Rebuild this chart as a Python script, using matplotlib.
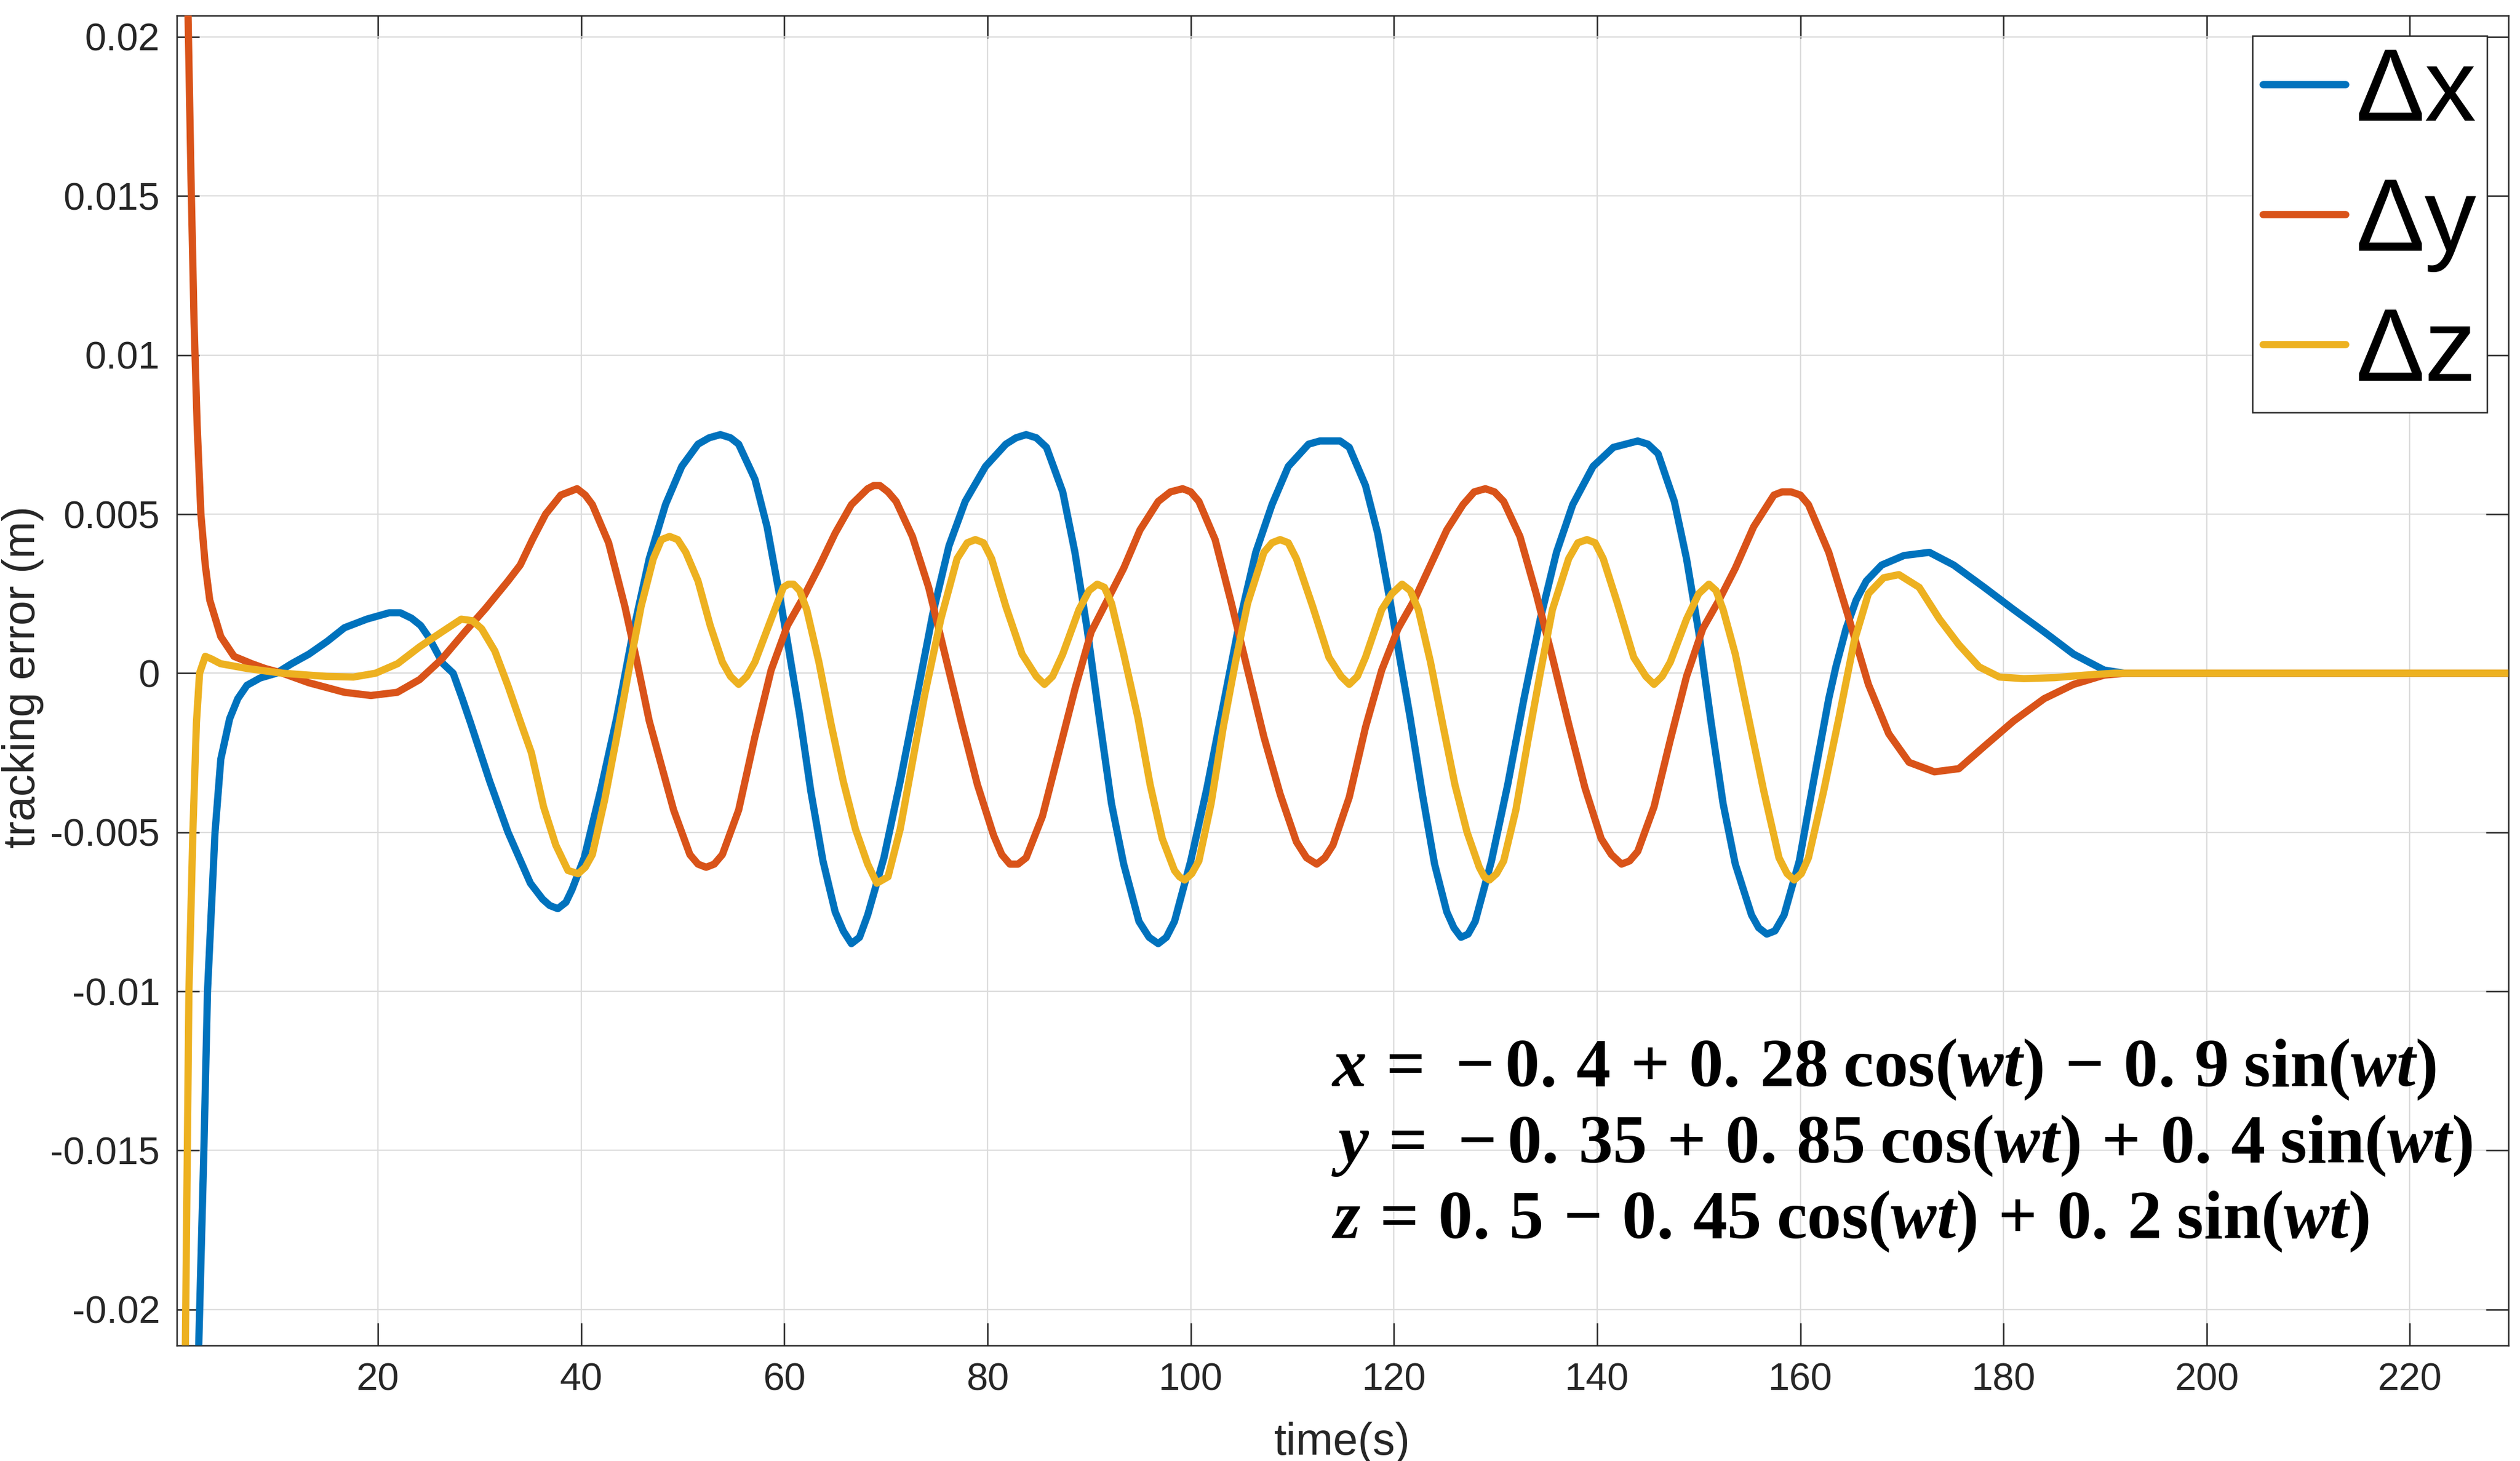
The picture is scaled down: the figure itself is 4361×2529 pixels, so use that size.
import matplotlib
matplotlib.use("Agg")
import matplotlib.pyplot as plt
from matplotlib.ticker import FixedLocator, FixedFormatter

# ---------------- data ----------------
# each series: list of (time [s], error [m]) pairs
dx_points = [
    (0.2, -0.060), (1.5, -0.034), (2.35, -0.0212), (2.87, -0.0149), (3.22, -0.0100),
    (3.96, -0.0050), (4.53, -0.0027), (5.4, -0.00143), (6.2, -0.0008), (7.1, -0.00038),
    (8.4, -0.00015), (10.0, 0.0), (11.5, 0.0003), (13.2, 0.0006), (15.0, 0.0010),
    (16.7, 0.00143), (18.9, 0.0017), (21.1, 0.0019), (22.2, 0.0019), (23.3, 0.00173),
    (24.2, 0.0015), (25.0, 0.00113), (26.4, 0.0003), (27.4, 0.0), (28.3, -0.0008),
    (29.1, -0.00155), (31.0, -0.0034), (32.8, -0.0050), (33.9, -0.0058), (35.0, -0.0066),
    (36.2, -0.0071), (36.9, -0.0073), (37.7, -0.0074), (38.5, -0.0072), (39.1, -0.0068),
    (40.3, -0.0058), (41.9, -0.0037), (43.5, -0.0014), (45.1, 0.00127), (46.7, 0.0036),
    (48.3, 0.0053), (49.9, 0.0065), (51.5, 0.0072), (52.6, 0.0074), (53.7, 0.0075),
    (54.7, 0.0074), (55.5, 0.0072), (57.1, 0.0061), (58.3, 0.0046), (59.5, 0.0025),
    (60.3, 0.0010), (61.5, -0.0013), (62.6, -0.0037), (63.8, -0.0059), (65.0, -0.0075),
    (65.8, -0.0081), (66.6, -0.0085), (67.4, -0.0083), (68.2, -0.0076), (69.8, -0.0058),
    (71.4, -0.0034), (73.0, -0.0008), (74.6, 0.00185), (76.2, 0.0040), (77.8, 0.0054),
    (79.8, 0.0065), (81.8, 0.0072), (82.8, 0.0074), (83.8, 0.0075), (84.8, 0.0074),
    (85.8, 0.0071), (87.4, 0.0057), (88.6, 0.0038), (89.8, 0.0014), (91.0, -0.0014),
    (92.2, -0.0041), (93.4, -0.0060), (94.9, -0.0078), (95.9, -0.0083), (96.8, -0.0085),
    (97.6, -0.0083), (98.4, -0.0078), (100.0, -0.0059), (101.6, -0.0036), (103.2, -0.0010),
    (104.8, 0.0016), (106.4, 0.0038), (108.0, 0.0053), (109.6, 0.0065), (111.6, 0.0072),
    (112.7, 0.0073), (113.8, 0.0073), (114.7, 0.0073), (115.6, 0.0071), (117.2, 0.0059),
    (118.4, 0.0044), (119.6, 0.0023), (120.4, 0.0008), (121.6, -0.0014), (122.8, -0.0038),
    (124.0, -0.0060), (125.2, -0.0075), (125.9, -0.0080), (126.6, -0.0083), (127.3, -0.0082),
    (128.0, -0.0078), (129.6, -0.0059), (131.2, -0.0035), (132.8, -0.0008), (134.4, 0.0017),
    (136.0, 0.0038), (137.6, 0.0053), (139.6, 0.0065), (141.6, 0.0071), (142.8, 0.0072),
    (144.0, 0.0073), (145.0, 0.0072), (146.0, 0.0069), (147.6, 0.0054), (148.8, 0.0036),
    (150.0, 0.0013), (151.2, -0.0015), (152.4, -0.0041), (153.6, -0.0060), (155.2, -0.0076),
    (155.9, -0.0080), (156.7, -0.0082), (157.5, -0.0081), (158.4, -0.0076), (159.9, -0.0059),
    (161.3, -0.0034), (162.8, -0.0008), (163.5, 0.0002), (164.5, 0.0014), (165.5, 0.0023),
    (166.5, 0.0029), (168.0, 0.0034), (170.2, 0.0037), (172.7, 0.0038), (175.1, 0.0034),
    (178.1, 0.0027), (181.0, 0.0020), (184.0, 0.0013), (186.9, 0.0006), (189.9, 0.0001),
    (191.9, 0.0), (200.0, 0.0), (210.0, 0.0), (220.0, 0.0), (230.0, 0.0),
]

dy_points = [
    (0.2, 0.045), (1.0, 0.028), (1.26, 0.0215), (1.6, 0.0155), (1.9, 0.0110), (2.2, 0.0078),
    (2.57, 0.0050), (3.0, 0.0034), (3.44, 0.0023), (4.53, 0.00115), (5.83, 0.00053),
    (7.57, 0.0003), (8.88, 0.00015), (10.6, 0.0), (13.2, -0.0003), (16.7, -0.0006),
    (19.3, -0.0007), (21.9, -0.0006), (24.1, -0.0002), (26.3, 0.00045), (28.5, 0.00128),
    (30.6, 0.00204), (32.8, 0.0029), (34.0, 0.0034), (35.2, 0.0042), (36.5, 0.0050),
    (38.0, 0.0056), (38.8, 0.0057), (39.6, 0.0058), (40.4, 0.0056), (41.1, 0.0053),
    (42.7, 0.0041), (44.3, 0.0021), (45.5, 0.00035), (46.7, -0.0015), (47.9, -0.0029),
    (49.1, -0.0043), (50.7, -0.0057), (51.5, -0.0060), (52.3, -0.0061), (53.1, -0.0060),
    (53.9, -0.0057), (55.5, -0.0043), (57.1, -0.0020), (58.7, 0.0001), (60.3, 0.0015),
    (61.9, 0.0024), (63.5, 0.0034), (65.0, 0.0044), (66.6, 0.0053), (68.2, 0.0058),
    (68.8, 0.0059), (69.4, 0.0059), (70.2, 0.0057), (71.0, 0.0054), (72.6, 0.0043),
    (74.2, 0.0027), (75.8, 0.0006), (77.4, -0.0015), (79.0, -0.0035), (80.6, -0.0051),
    (81.4, -0.0057), (82.2, -0.0060), (83.0, -0.0060), (83.8, -0.0058), (85.4, -0.0045),
    (87.0, -0.0025), (88.6, -0.0005), (90.2, 0.0013), (91.8, 0.0023), (93.4, 0.0033),
    (95.0, 0.0045), (96.8, 0.0054), (98.0, 0.0057), (99.2, 0.0058), (100.0, 0.0057),
    (100.8, 0.0054), (102.4, 0.0042), (104.0, 0.0022), (105.6, 0.0001), (107.2, -0.0020),
    (108.8, -0.0038), (110.4, -0.0053), (111.4, -0.0058), (112.4, -0.0060), (113.2, -0.0058),
    (114.0, -0.0054), (115.6, -0.0039), (117.2, -0.0017), (118.8, 0.0001), (120.4, 0.0014),
    (122.0, 0.0023), (123.6, 0.0034), (125.2, 0.0045), (126.8, 0.0053), (127.9, 0.0057),
    (129.0, 0.0058), (129.9, 0.0057), (130.8, 0.0054), (132.4, 0.0043), (134.0, 0.0025),
    (135.6, 0.0005), (137.2, -0.0016), (138.8, -0.0036), (140.4, -0.0052), (141.4, -0.0057),
    (142.4, -0.0060), (143.2, -0.0059), (144.0, -0.0056), (145.6, -0.0042), (147.2, -0.0021),
    (148.8, -0.0001), (150.4, 0.0014), (152.0, 0.0023), (153.6, 0.0033), (155.4, 0.0046),
    (157.4, 0.0056), (158.2, 0.0057), (159.1, 0.0057), (160.0, 0.0056), (160.8, 0.0053),
    (162.8, 0.0038), (164.8, 0.0017), (166.7, -0.00035), (168.7, -0.0019), (170.7, -0.0028),
    (173.2, -0.0031), (175.6, -0.0030), (178.1, -0.0023), (181.0, -0.0015), (184.0, -0.0008),
    (186.9, -0.00035), (189.9, -0.00006), (192.0, 0.0), (200.0, 0.0), (210.0, 0.0),
    (220.0, 0.0), (230.0, 0.0),
]

dz_points = [
    (0.2, -0.045), (0.7, -0.032), (1.04, -0.0212), (1.39, -0.0100), (1.78, -0.0050),
    (2.13, -0.00155), (2.44, 0.0), (3.0, 0.00053), (3.6, 0.00045), (4.5, 0.0003),
    (7.1, 0.00015), (10.6, 0.0), (14.97, -0.0001), (17.58, -0.00012), (19.76, 0.0),
    (21.93, 0.0003), (24.1, 0.00083), (26.3, 0.0013), (28.2, 0.0017), (29.3, 0.00165),
    (30.2, 0.0014), (31.5, 0.0007), (32.8, -0.0004), (34.1, -0.0016), (35.1, -0.0025),
    (36.3, -0.0042), (37.5, -0.0054), (38.7, -0.0062), (39.7, -0.0063), (40.4, -0.0061),
    (41.1, -0.0057), (42.3, -0.0040), (43.5, -0.0020), (44.7, 0.0001), (45.9, 0.0021),
    (47.1, 0.0036), (47.9, 0.0042), (48.7, 0.0043), (49.5, 0.0042), (50.3, 0.0038),
    (51.5, 0.0029), (52.7, 0.0015), (53.9, 0.00035), (54.7, -0.0001), (55.5, -0.00035),
    (56.3, -0.0001), (57.1, 0.00035), (58.7, 0.0017), (59.9, 0.0027), (60.4, 0.0028),
    (60.9, 0.0028), (61.5, 0.0026), (62.2, 0.0020), (63.4, 0.00035), (64.6, -0.0016),
    (65.8, -0.0034), (67.0, -0.0049), (68.2, -0.0060), (69.1, -0.0066), (70.2, -0.0064),
    (71.4, -0.0049), (72.6, -0.0028), (73.8, -0.0007), (75.4, 0.0017), (77.0, 0.0036),
    (78.0, 0.0041), (78.8, 0.0042), (79.6, 0.0041), (80.4, 0.0036), (81.8, 0.0021),
    (83.4, 0.0006), (84.8, -0.0001), (85.6, -0.00035), (86.4, -0.0001), (87.4, 0.0006),
    (89.0, 0.0020), (90.0, 0.0026), (90.8, 0.0028), (91.5, 0.0027), (92.2, 0.0022),
    (93.4, 0.0006), (94.8, -0.0014), (96.0, -0.0035), (97.2, -0.0052), (98.4, -0.0062),
    (98.9, -0.0064), (99.4, -0.0065), (100.1, -0.0063), (100.8, -0.0059), (102.0, -0.0041),
    (103.2, -0.0017), (104.4, 0.00035), (105.6, 0.0022), (107.2, 0.0038), (108.0, 0.0041),
    (108.8, 0.0042), (109.6, 0.0041), (110.4, 0.0036), (112.0, 0.0021), (113.6, 0.0005),
    (114.8, -0.0001), (115.6, -0.00035), (116.4, -0.0001), (117.2, 0.0005), (118.8, 0.0020),
    (119.8, 0.0025), (120.8, 0.0028), (121.6, 0.0026), (122.4, 0.0020), (123.6, 0.00035),
    (124.8, -0.0016), (126.0, -0.0035), (127.2, -0.0050), (128.4, -0.0061), (128.9, -0.0064),
    (129.4, -0.0065), (130.1, -0.0063), (130.8, -0.0059), (132.0, -0.0043), (133.2, -0.0021),
    (134.4, 0.0), (135.6, 0.0020), (137.2, 0.0036), (138.1, 0.0041), (139.0, 0.0042),
    (139.8, 0.0041), (140.6, 0.0036), (142.0, 0.0022), (143.6, 0.0005), (144.8, -0.0001),
    (145.6, -0.00035), (146.4, -0.0001), (147.2, 0.00035), (148.8, 0.0017), (150.0, 0.0025),
    (151.0, 0.0028), (151.7, 0.0026), (152.4, 0.0020), (153.6, 0.0006), (154.9, -0.0014),
    (156.4, -0.0037), (157.9, -0.0058), (158.7, -0.0063), (159.4, -0.0065), (160.1, -0.0063),
    (160.8, -0.0058), (162.3, -0.0037), (163.8, -0.0014), (165.3, 0.0010), (166.7, 0.0025),
    (168.2, 0.0030), (169.7, 0.0031), (171.7, 0.0027), (173.7, 0.0017), (175.6, 0.0009),
    (177.6, 0.0002), (179.6, -0.00012), (182.0, -0.00017), (185.0, -0.00014),
    (188.0, -0.00006), (190.9, 0.0), (200.0, 0.0), (210.0, 0.0), (220.0, 0.0), (230.0, 0.0),
]

series_labels = ["Δx", "Δy", "Δz"]
x_ticks = [20, 40, 60, 80, 100, 120, 140, 160, 180, 200, 220]
x_tick_labels = ["20", "40", "60", "80", "100", "120", "140", "160", "180", "200", "220"]
y_ticks = [-0.02, -0.015, -0.01, -0.005, 0.0, 0.005, 0.01, 0.015, 0.02]
y_tick_labels = ["-0.02", "-0.015", "-0.01", "-0.005", "0", "0.005", "0.01", "0.015", "0.02"]
x_label = "time(s)"
y_label = "tracking error (m)"
equations = [
    r"$x\,=\,-0.\,4\,+\,0.\,28\;\cos(wt)\,-\,0.\,9\;\sin(wt)$",
    r"$y\,=\,-0.\,35\,+\,0.\,85\;\cos(wt)\,+\,0.\,4\;\sin(wt)$",
    r"$z\,=\,0.\,5\,-\,0.\,45\;\cos(wt)\,+\,0.\,2\;\sin(wt)$",
]

# ---------------- style ----------------
plt.rcParams["font.family"] = ["Liberation Sans", "DejaVu Sans"]
plt.rcParams["axes.unicode_minus"] = False
plt.rcParams["mathtext.fontset"] = "custom"
plt.rcParams["mathtext.rm"] = "Liberation Serif:bold"
plt.rcParams["mathtext.it"] = "Liberation Serif:italic:bold"
plt.rcParams["mathtext.bf"] = "Liberation Serif:bold"

W, H, DPI = 4361, 2529, 300
DARK = "#262626"
colors = ["#0072BD", "#D95319", "#EDB120"]

fig = plt.figure(figsize=(W / DPI, H / DPI), dpi=DPI)
fig.patch.set_facecolor("white")
ax_l, ax_r, ax_t, ax_b = 306, 4341, 26.5, 2329
ax = fig.add_axes([ax_l / W, 1 - ax_b / H, (ax_r - ax_l) / W, (ax_b - ax_t) / H])

lw = 3.0
for pts, c, lab in zip([dx_points, dy_points, dz_points], colors, series_labels):
    pts = sorted(pts)
    tt = [p[0] for p in pts]
    vv = [p[1] for p in pts]
    ax.plot(tt, vv, color=c, lw=lw, label=lab, solid_joinstyle="round",
            solid_capstyle="round", zorder=3)

ax.set_xlim(0.2, 229.7)
ax.set_ylim(-0.02113, 0.02068)

ax.xaxis.set_major_locator(FixedLocator(x_ticks))
ax.xaxis.set_major_formatter(FixedFormatter(x_tick_labels))
ax.yaxis.set_major_locator(FixedLocator(y_ticks))
ax.yaxis.set_major_formatter(FixedFormatter(y_tick_labels))

ax.grid(True, color="#dcdcdc", lw=0.55, zorder=0)
ax.set_axisbelow(True)
ax.tick_params(direction="in", length=9.4, width=0.6, colors=DARK, labelsize=16,
               top=True, right=True, pad=7)
for s in ax.spines.values():
    s.set_color(DARK)
    s.set_linewidth(0.6)

fig.text(2323 / W, 1 - 2497 / H, x_label, ha="center", va="center", fontsize=18.5,
         color=DARK)
fig.text(40 / W, 1 - 1172 / H, y_label, ha="center", va="center", rotation=90,
         fontsize=18.5, color=DARK)

leg = ax.legend(loc="upper right", bbox_to_anchor=(4304 / W, 1 - 62 / H),
                bbox_transform=fig.transFigure, borderaxespad=0,
                prop={"family": "Liberation Sans", "size": 43},
                handlelength=0.8, handletextpad=0.1, labelspacing=0.33,
                borderpad=0.1, frameon=True, fancybox=False, framealpha=1,
                edgecolor=DARK)
leg.get_frame().set_linewidth(0.6)
leg.set_zorder(5)

eq_baselines = [1880, 2012, 2143]
for eq, yb in zip(equations, eq_baselines):
    fig.text(2304 / W, 1 - yb / H, eq, ha="left", va="baseline", fontsize=28.5,
             color="black")

fig.savefig("out.png", dpi=DPI, facecolor="white")
